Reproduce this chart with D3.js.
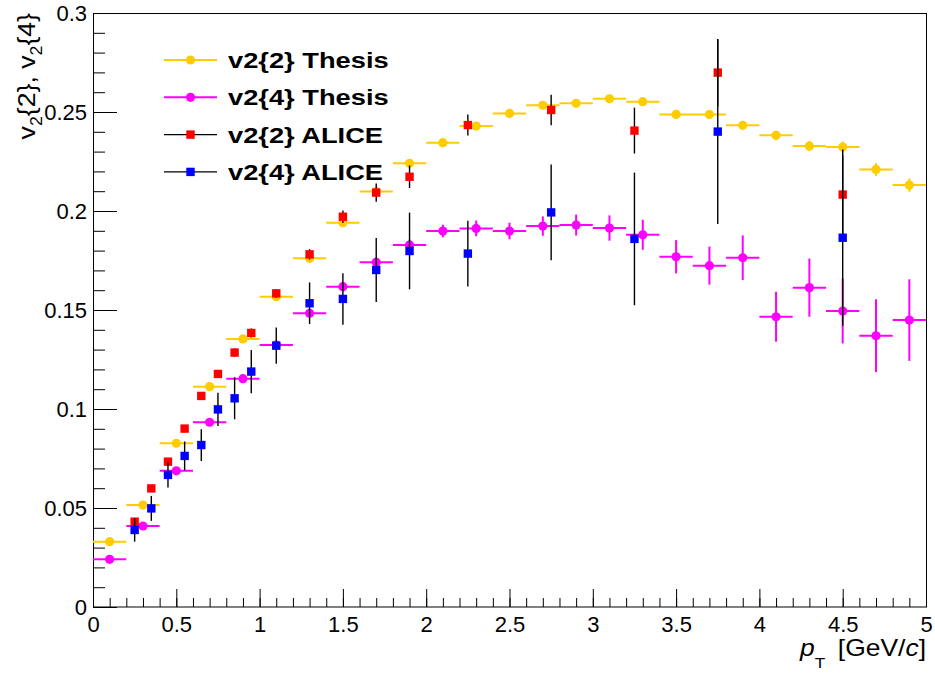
<!DOCTYPE html>
<html lang="en">
<head>
<meta charset="UTF-8">
<title>v2 vs pT</title>
<script src="https://cdn.jsdelivr.net/npm/d3@7"></script>
<style>
  body { margin: 0; background: #fff; }
  text { font-family: "Liberation Sans", Arial, Helvetica, sans-serif; fill: #000; }
  .axis text { font-size: 22px; }
  .axis line { stroke: #000; }
  .legend text { font-size: 22px; font-weight: bold; }
</style>
</head>
<body>
<div id="chart"></div>
<script>

// thesis results, 0.2 GeV/c bins
var thesisPt = [0.1, 0.3, 0.5, 0.7, 0.9, 1.1, 1.3, 1.5, 1.7, 1.9, 2.1, 2.3, 2.5,
                2.7, 2.9, 3.1, 3.3, 3.5, 3.7, 3.9, 4.1, 4.3, 4.5, 4.7, 4.9];
var thesisHalfBin = 0.1;
var v22Thesis = [0.0330, 0.0515, 0.0827, 0.1113, 0.1354, 0.1567, 0.1761, 0.1941, 0.2098,
                 0.2241, 0.2345, 0.2429, 0.2493, 0.2534, 0.2544, 0.2567, 0.2552, 0.2488,
                 0.2487, 0.2433, 0.2382, 0.2328, 0.2323, 0.2210, 0.2131];
var v22ThesisErr = [0.0003, 0.0004, 0.0005, 0.0006, 0.0006, 0.0007, 0.0008, 0.0009, 0.0010,
                    0.0011, 0.0012, 0.0013, 0.0014, 0.0015, 0.0016, 0.0017, 0.0018, 0.0019,
                    0.0020, 0.0022, 0.0024, 0.0026, 0.0028, 0.0032, 0.0034];
var v24Thesis = [0.0241, 0.0409, 0.0688, 0.0933, 0.1153, 0.1323, 0.1483, 0.1618, 0.1741,
                 0.1828, 0.1899, 0.1912, 0.1899, 0.1924, 0.1929, 0.1914, 0.1880, 0.1769,
                 0.1724, 0.1764, 0.1466, 0.1613, 0.1495, 0.1370, 0.1449];
var v24ThesisErr = [0.0006, 0.0008, 0.0010, 0.0012, 0.0014, 0.0016, 0.0018, 0.0021, 0.0024,
                    0.0027, 0.0032, 0.0040, 0.0042, 0.0049, 0.0053, 0.0064, 0.0076, 0.0084,
                    0.0096, 0.0113, 0.0126, 0.0147, 0.0164, 0.0184, 0.0206];

// ALICE published points
var alicePt = [0.25, 0.35, 0.45, 0.55, 0.65, 0.75, 0.85, 0.95, 1.1, 1.3, 1.5, 1.7, 1.9,
               2.25, 2.75, 3.25, 3.75, 4.5];
var v22Alice = [0.0431, 0.0599, 0.0734, 0.0901, 0.1066, 0.1177, 0.1285, 0.1384, 0.1584,
                0.1781, 0.1971, 0.2093, 0.2173, 0.2434, 0.2510, 0.2406, 0.2699, 0.2083];
var v22AliceErr = [0.0010, 0.0012, 0.0013, 0.0015, 0.0017, 0.0019, 0.0021, 0.0023, 0.0022,
                   0.0026, 0.0032, 0.0046, 0.0057, 0.0053, 0.0077, 0.0116, 0.0170, 0.0200];
var v24Alice = [0.0389, 0.0498, 0.0667, 0.0763, 0.0818, 0.0998, 0.1054, 0.1189, 0.1320,
                0.1534, 0.1556, 0.1702, 0.1798, 0.1785, 0.1993, 0.1859, 0.2401, 0.1865];
var v24AliceErr = [0.0059, 0.0063, 0.0063, 0.0073, 0.0080, 0.0084, 0.0106, 0.0109, 0.0092,
                   0.0105, 0.0130, 0.0162, 0.0194, 0.0166, 0.0242, 0.0335, 0.0467, 0.0445];

// axis ticks
var xTicks = [0, 0.5, 1, 1.5, 2, 2.5, 3, 3.5, 4, 4.5, 5];
var yTicks = [0, 0.05, 0.1, 0.15, 0.2, 0.25, 0.3];

var legendLabels = ["v2{2} Thesis", "v2{4} Thesis", "v2{2} ALICE", "v2{4} ALICE"];

// canvas setup
var W = 935, H = 674;
var margin = {top: 13, right: 9, bottom: 67, left: 93},
    width = W - margin.left - margin.right,
    height = H - margin.top - margin.bottom;

var svg = d3.select("#chart").append("svg")
    .attr("width", W)
    .attr("height", H);

var g = svg.append("g")
    .attr("transform", "translate(" + margin.left + "," + margin.top + ")");

var x = d3.scaleLinear().domain([0, 5]).range([0, width]);
var y = d3.scaleLinear().domain([0, 0.3]).range([height, 0]);

var fmt = function(d) { return String(+d.toFixed(2)); };

// minor ticks first, then major with labels (ticks point inside like ROOT)
g.append("g").attr("class", "axis")
    .attr("transform", "translate(0," + height + ")")
    .call(d3.axisBottom(x).tickValues(d3.range(0, 5.001, 0.1)).tickSize(-9).tickFormat(""))
    .call(function(a) { a.select(".domain").remove(); });
g.append("g").attr("class", "axis")
    .attr("transform", "translate(0," + height + ")")
    .call(d3.axisBottom(x).tickValues(xTicks).tickSize(-18).tickPadding(9).tickFormat(fmt))
    .call(function(a) { a.select(".domain").remove(); });

g.append("g").attr("class", "axis")
    .call(d3.axisLeft(y).tickValues(d3.range(0, 0.3001, 0.01)).tickSize(-12).tickFormat(""))
    .call(function(a) { a.select(".domain").remove(); });
g.append("g").attr("class", "axis")
    .call(d3.axisLeft(y).tickValues(yTicks).tickSize(-24).tickPadding(6).tickFormat(fmt))
    .call(function(a) { a.select(".domain").remove(); });

// frame
g.append("rect")
    .attr("x", 0.5).attr("y", 0.5)
    .attr("width", width).attr("height", height - 0.5)
    .attr("fill", "none")
    .attr("stroke", "#000")
    .attr("stroke-width", 1);

// axis titles
var ytitle = svg.append("text")
    .attr("transform", "translate(35," + margin.top + ") rotate(-90) scale(1.11,1)")
    .attr("text-anchor", "end")
    .style("font-size", "24px");
ytitle.append("tspan").text("v");
ytitle.append("tspan").attr("dy", 7).style("font-size", "16px").text("2");
ytitle.append("tspan").attr("dy", -7).text("{2}, v");
ytitle.append("tspan").attr("dy", 7).style("font-size", "16px").text("2");
ytitle.append("tspan").attr("dy", -7).text("{4}");

var xtitle = svg.append("text")
    .attr("transform", "translate(" + (margin.left + width) + ",656) scale(1.15,1)")
    .attr("text-anchor", "end")
    .style("font-size", "23px");
xtitle.append("tspan").style("font-style", "italic").text("p");
xtitle.append("tspan").attr("dy", 12).style("font-size", "15px").text("T");
xtitle.append("tspan").attr("dy", -12).text("\u2009 [GeV/");
xtitle.append("tspan").style("font-style", "italic").text("c");
xtitle.append("tspan").text("]");

function makeRows(pts, vals, errs) {
  return pts.map(function(p, i) { return {x: p, y: vals[i], e: errs[i]}; });
}

// thesis series: horizontal bin bars + vertical errors + circle markers
function drawThesis(rows, color) {
  var s = g.append("g");
  s.selectAll(".hbar").data(rows).enter().append("line")
      .attr("x1", function(d) { return x(d.x - thesisHalfBin); })
      .attr("x2", function(d) { return x(d.x + thesisHalfBin); })
      .attr("y1", function(d) { return y(d.y); })
      .attr("y2", function(d) { return y(d.y); })
      .attr("stroke", color).attr("stroke-width", 2);
  s.selectAll(".vbar").data(rows).enter().append("line")
      .attr("x1", function(d) { return x(d.x); })
      .attr("x2", function(d) { return x(d.x); })
      .attr("y1", function(d) { return y(d.y - d.e); })
      .attr("y2", function(d) { return y(d.y + d.e); })
      .attr("stroke", color).attr("stroke-width", 2);
  s.selectAll("circle").data(rows).enter().append("circle")
      .attr("cx", function(d) { return x(d.x); })
      .attr("cy", function(d) { return y(d.y); })
      .attr("r", 4.6)
      .attr("fill", color);
}

// ALICE series: black vertical errors + square markers
function drawAlice(rows, color) {
  var s = g.append("g");
  s.selectAll("line").data(rows).enter().append("line")
      .attr("x1", function(d) { return x(d.x); })
      .attr("x2", function(d) { return x(d.x); })
      .attr("y1", function(d) { return y(d.y - d.e); })
      .attr("y2", function(d) { return y(d.y + d.e); })
      .attr("stroke", "#000").attr("stroke-width", 1.4);
  s.selectAll("rect").data(rows).enter().append("rect")
      .attr("x", function(d) { return x(d.x) - 4.2; })
      .attr("y", function(d) { return y(d.y) - 4.2; })
      .attr("width", 8.4).attr("height", 8.4)
      .attr("fill", color);
}

drawThesis(makeRows(thesisPt, v22Thesis, v22ThesisErr), "#ffcc00");
drawThesis(makeRows(thesisPt, v24Thesis, v24ThesisErr), "#ff00ff");
drawAlice(makeRows(alicePt, v22Alice, v22AliceErr), "#ff0000");
drawAlice(makeRows(alicePt, v24Alice, v24AliceErr), "#0000ff");

// legend (no box)
var legendItems = [
  {label: legendLabels[0], line: "#ffcc00", fill: "#ffcc00", shape: "circle"},
  {label: legendLabels[1], line: "#ff00ff", fill: "#ff00ff", shape: "circle"},
  {label: legendLabels[2], line: "#000", fill: "#ff0000", shape: "square"},
  {label: legendLabels[3], line: "#000", fill: "#0000ff", shape: "square"}
];

var leg = svg.append("g").attr("class", "legend")
    .attr("transform", "translate(164,60)");

var item = leg.selectAll("g").data(legendItems).enter().append("g")
    .attr("transform", function(d, i) { return "translate(0," + (i * 37.3) + ")"; });

item.append("line")
    .attr("x1", 0).attr("x2", 53)
    .attr("stroke", function(d) { return d.line; })
    .attr("stroke-width", function(d) { return d.shape == "circle" ? 2 : 1.4; });

item.filter(function(d) { return d.shape == "circle"; }).append("circle")
    .attr("cx", 26.5).attr("r", 4.6)
    .attr("fill", function(d) { return d.fill; });

item.filter(function(d) { return d.shape == "square"; }).append("rect")
    .attr("x", 26.5 - 4.2).attr("y", -4.2)
    .attr("width", 8.4).attr("height", 8.4)
    .attr("fill", function(d) { return d.fill; });

item.append("text")
    .attr("transform", "translate(64,0) scale(1.24,1)")
    .attr("dy", "0.36em")
    .text(function(d) { return d.label; });

</script>
</body>
</html>
